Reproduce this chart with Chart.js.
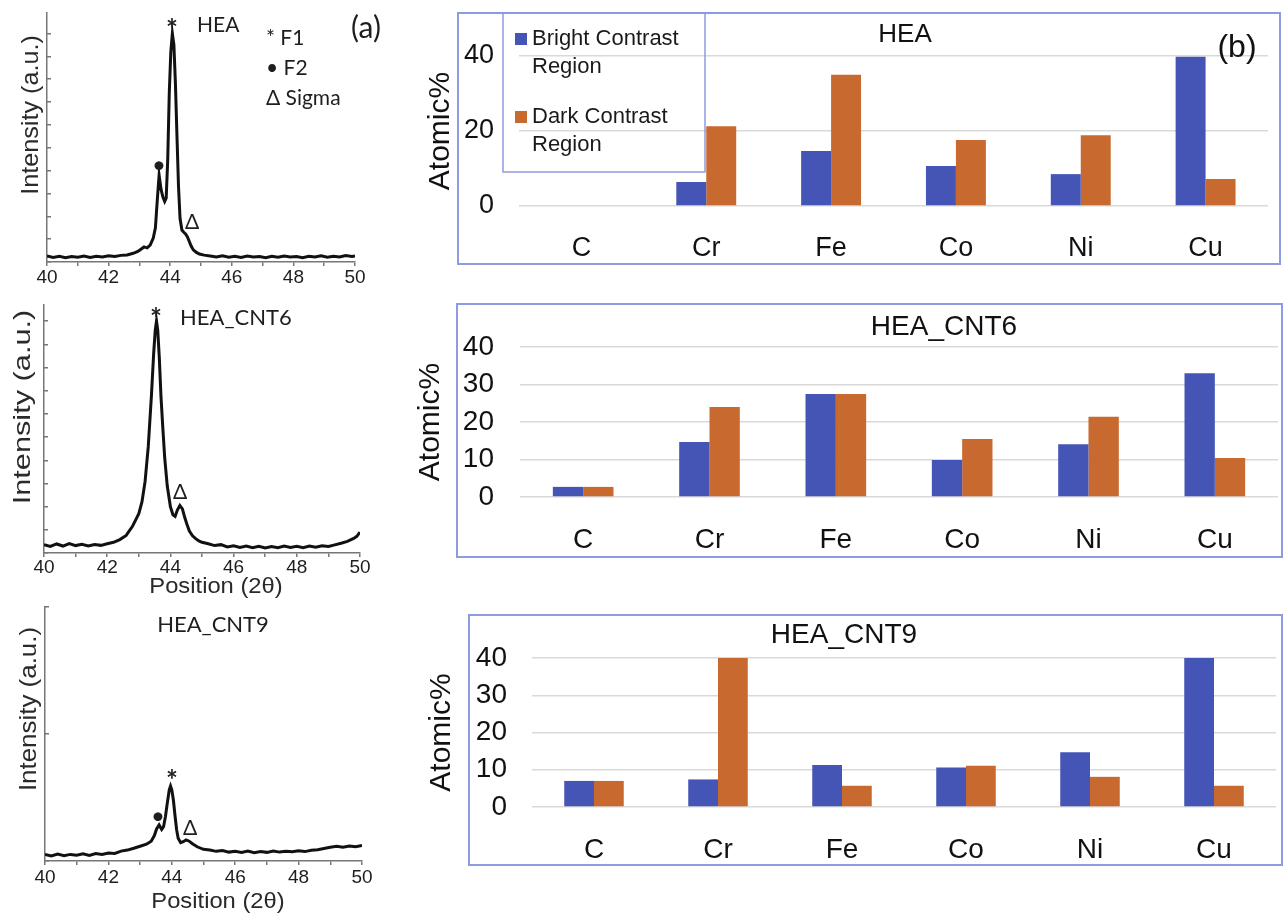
<!DOCTYPE html>
<html>
<head>
<meta charset="utf-8">
<title>XRD patterns and EDS atomic % of HEA, HEA_CNT6, HEA_CNT9</title>
<script src="https://cdn.jsdelivr.net/npm/chart.js@4.4.1/dist/chart.umd.min.js"></script>
<style>
  body { margin: 0; background: #fff; }
  #page { position: relative; width: 1285px; height: 918px; overflow: hidden; }
  .pane { position: absolute; }
  .frame { position: absolute; box-sizing: border-box; border: 2px solid #8d9be2; }
</style>
</head>
<body>
<div id="page">
  <div class="frame" style="left:457px;top:12px;width:824px;height:253px"></div>
  <div class="frame" style="left:456px;top:303px;width:827px;height:255px"></div>
  <div class="frame" style="left:468px;top:614px;width:815px;height:252px"></div>

  <canvas id="xrd1" class="pane" width="400" height="290" style="left:0;top:0"></canvas>
  <canvas id="xrd2" class="pane" width="400" height="310" style="left:0;top:290px"></canvas>
  <canvas id="xrd3" class="pane" width="400" height="318" style="left:0;top:600px"></canvas>

  <canvas id="eds1" class="pane" width="885" height="290" style="left:400px;top:0"></canvas>
  <canvas id="eds2" class="pane" width="885" height="290" style="left:400px;top:290px"></canvas>
  <canvas id="eds3" class="pane" width="885" height="290" style="left:400px;top:600px"></canvas>
</div>
<script>
// ---- (a) XRD patterns, 2theta vs intensity (a.u.) ----
const heaX = [40.0, 40.2, 40.4, 40.6, 40.8, 41.0, 41.2, 41.4, 41.6, 41.8, 42.0, 42.2, 42.4, 42.6, 42.8,
  42.95, 43.05, 43.15, 43.25, 43.35, 43.45, 43.52, 43.58, 43.64, 43.7, 43.76, 43.82, 43.87, 43.92, 43.97,
  44.02, 44.07, 44.12, 44.17, 44.22, 44.27, 44.32, 44.38, 44.44, 44.5, 44.56, 44.62, 44.68, 44.75, 44.85,
  44.95, 45.1, 45.3, 45.5, 45.7, 45.9, 46.1, 46.3, 46.5, 46.7, 46.9, 47.1, 47.3, 47.5, 47.7, 47.9, 48.1,
  48.3, 48.5, 48.7, 48.9, 49.1, 49.3, 49.5, 49.7, 49.9, 50.0];
const heaY = [2.6, 2.0, 2.5, 1.9, 2.4, 2.1, 2.6, 2.0, 2.5, 2.2, 2.7, 2.4, 2.9, 3.1, 3.8,
  4.6, 5.6, 6.6, 6.2, 7.4, 10.5, 15, 27, 38, 32, 28.5, 26.5, 28, 45, 74,
  92, 100, 95, 78, 55, 33, 19, 14, 13, 12.3, 11, 9, 7, 5.3, 4.2,
  3.5, 3.0, 2.6, 2.2, 2.7, 2.1, 2.5, 2.0, 2.6, 2.2, 2.4, 1.9, 2.5, 2.1, 2.6, 2.2, 2.4,
  1.9, 2.5, 2.2, 2.7, 2.1, 2.5, 2.2, 2.8, 2.4, 2.6];

const cnt6X = [40.0, 40.2, 40.4, 40.6, 40.8, 41.0, 41.2, 41.4, 41.6, 41.8, 42.0, 42.2, 42.4, 42.6, 42.8,
  43.0, 43.1, 43.2, 43.3, 43.4, 43.47, 43.52, 43.56, 43.6, 43.65, 43.7, 43.76, 43.82, 43.9, 44.0,
  44.08, 44.15, 44.22, 44.3, 44.38, 44.45, 44.52, 44.6, 44.7, 44.8, 44.9, 45.0, 45.2, 45.4, 45.6,
  45.8, 46.0, 46.2, 46.4, 46.6, 46.8, 47.0, 47.2, 47.4, 47.6, 47.8, 48.0, 48.2, 48.4, 48.6, 48.8,
  49.0, 49.2, 49.4, 49.6, 49.8, 49.9, 50.0];
const cnt6Y = [3.6, 2.8, 3.9, 3.0, 4.1, 3.2, 3.8, 3.0, 3.7, 3.3, 4.0, 4.6, 5.8, 7.6, 11.5,
  17, 22, 31, 46, 68, 86, 96, 100, 96, 84, 68, 54, 41, 29, 20,
  16.5, 15.8, 18.5, 20.5, 19, 15.5, 12.5, 9.5, 7.4, 6.2, 5.2, 4.6, 4.0, 3.2, 3.6,
  2.6, 3.1, 2.4, 3.0, 2.3, 2.9, 2.2, 2.8, 2.3, 3.0, 2.4, 2.9, 2.3, 3.0, 2.5, 3.1,
  2.8, 3.5, 4.2, 5.0, 6.3, 7.2, 9.0];

const cnt9X = [40.0, 40.2, 40.4, 40.6, 40.8, 41.0, 41.2, 41.4, 41.6, 41.8, 42.0, 42.2, 42.4, 42.6, 42.8,
  43.0, 43.2, 43.35, 43.45, 43.52, 43.6, 43.68, 43.74, 43.8, 43.86, 43.92, 43.96, 44.0, 44.05, 44.1,
  44.15, 44.2, 44.28, 44.36, 44.45, 44.55, 44.65, 44.8, 45.0, 45.2, 45.4, 45.6, 45.8, 46.0, 46.2,
  46.4, 46.6, 46.8, 47.0, 47.2, 47.4, 47.6, 47.8, 48.0, 48.2, 48.4, 48.6, 48.8, 49.0, 49.2, 49.4,
  49.6, 49.8, 50.0];
const cnt9Y = [2.6, 2.0, 2.7, 2.1, 2.6, 2.3, 2.8, 2.2, 2.9, 2.6, 3.1, 3.0, 3.9, 4.3, 5.0,
  5.8, 6.6, 7.8, 10, 12.6, 14.2, 12.4, 13.5, 17.5, 23, 28, 29.5, 28, 24, 18,
  12.5, 9.0, 7.2, 7.6, 8.3, 7.8, 6.8, 5.6, 4.6, 4.3, 3.8, 4.1, 3.5, 3.8, 3.4,
  3.9, 3.3, 3.7, 3.4, 3.9, 3.5, 3.8, 3.6, 4.0, 3.7, 4.2, 4.4, 4.9, 5.4, 5.8, 5.4,
  5.9, 5.6, 6.1];

// ---- (b) EDS atomic % per element ----
const elements = ['C', 'Cr', 'Fe', 'Co', 'Ni', 'Cu'];
const seriesNames = ['Bright Contrast Region', 'Dark Contrast Region'];
const heaBright = [0, 6.4, 14.7, 10.7, 8.5, 39.8];
const heaDark = [0, 21.3, 35.0, 17.6, 18.9, 7.2];
const cnt6Bright = [2.7, 14.7, 27.5, 9.9, 14.1, 33.0];
const cnt6Dark = [2.7, 24.0, 27.5, 15.5, 21.4, 10.4];
const cnt9Bright = [7.0, 7.4, 11.3, 10.6, 14.7, 40];
const cnt9Dark = [7.0, 40, 5.7, 11.1, 8.1, 5.7];

const BLUE = '#4555b5', ORANGE = '#c8692f', FRAME = '#8d9be2';
const SANS = "'Liberation Sans', Arial, sans-serif";
const CAL = "Lato, 'Open Sans', sans-serif";

// free text (panel titles, peak markers, axis titles placed like the figure)
const notesPlugin = {
  id: 'notes',
  afterDraw(chart, args, opts) {
    const ctx = chart.ctx;
    (opts.items || []).forEach(function(n) {
      ctx.save();
      ctx.font = n.font || ('20px ' + CAL);
      ctx.fillStyle = n.color || '#1e1e1e';
      ctx.textAlign = n.align || 'center';
      ctx.textBaseline = 'middle';
      ctx.translate(n.x, n.y);
      if (n.rotate) ctx.rotate(n.rotate);
      if (n.sx) ctx.scale(n.sx, 1);
      ctx.fillText(n.text, 0, 0);
      ctx.restore();
    });
  }
};

// boxed legend with the label wrapped before its last word
const boxLegend = {
  id: 'boxLegend',
  afterDraw(chart, args, o) {
    if (!o.box) return;
    const ctx = chart.ctx, b = o.box;
    ctx.save();
    ctx.strokeStyle = o.color;
    ctx.lineWidth = 1.5;
    ctx.strokeRect(b.x, b.y, b.w, b.h);
    ctx.font = o.font;
    ctx.textBaseline = 'middle';
    ctx.textAlign = 'left';
    chart.data.datasets.forEach(function(ds, i) {
      const cy = b.y + o.firstY + i * o.gap;
      ctx.fillStyle = ds.backgroundColor;
      ctx.fillRect(b.x + 12, cy - 6, 12, 12);
      ctx.fillStyle = '#1a1a1a';
      const words = ds.label.split(' ');
      const last = words.pop();
      ctx.fillText(words.join(' '), b.x + 29, cy);
      ctx.fillText(last, b.x + 29, cy + o.lineGap);
    });
    ctx.restore();
  }
};

Chart.register(notesPlugin, boxLegend);

function xrdChart(id, xs, ys, o) {
  return new Chart(document.getElementById(id), {
    type: 'line',
    data: {
      datasets: [{
        data: xs.map(function(x, i) { return { x: x, y: ys[i] }; }),
        borderColor: '#111', borderWidth: 3, pointRadius: 0, tension: 0
      }]
    },
    options: {
      responsive: false,
      animation: false,
      layout: { padding: { left: 0, top: o.top, right: o.right, bottom: 0 } },
      plugins: { legend: { display: false }, tooltip: { enabled: false }, notes: { items: o.notes } },
      scales: {
        x: {
          type: 'linear', min: 40, max: 50,
          ticks: {
            stepSize: 1, autoSkip: false, maxRotation: 0, padding: o.tickPad, color: '#1e1e1e',
            font: { family: SANS, size: 19 },
            callback: function(v) { return v % 2 === 0 ? v : ''; }
          },
          grid: { drawOnChartArea: false, color: '#777', tickLength: 4, lineWidth: 1.5 },
          border: { color: '#777', width: 1.5 },
          afterFit: function(s) { s.height = o.xh; }
        },
        y: {
          min: 0, max: o.ymax,
          ticks: { display: false, stepSize: o.ystep, includeBounds: false },
          grid: { drawOnChartArea: false, color: '#777', tickLength: -4, lineWidth: 1.5 },
          border: { color: '#777', width: 1.5 },
          afterFit: function(s) { s.width = o.left; }
        }
      }
    }
  });
}

function edsChart(id, bright, dark, o) {
  return new Chart(document.getElementById(id), {
    type: 'bar',
    data: {
      labels: elements,
      datasets: [
        { label: seriesNames[0], data: bright, backgroundColor: BLUE },
        { label: seriesNames[1], data: dark, backgroundColor: ORANGE }
      ]
    },
    options: {
      responsive: false,
      animation: false,
      datasets: { bar: { categoryPercentage: 0.48, barPercentage: 1, borderWidth: 0 } },
      layout: { padding: { left: 0, top: o.top, right: o.right, bottom: 0 } },
      plugins: {
        legend: { display: false }, tooltip: { enabled: false },
        notes: { items: o.notes }, boxLegend: o.legend || {}
      },
      scales: {
        x: {
          grid: { display: false }, border: { display: false },
          ticks: { color: '#111', font: { family: SANS, size: o.xFont }, padding: o.xPad },
          afterFit: function(s) { s.height = o.xh; }
        },
        y: {
          min: 0, max: 40,
          ticks: { stepSize: o.ystep, color: '#111', font: { family: SANS, size: o.yFont }, padding: o.yPad },
          grid: { color: '#d9d9d9', lineWidth: 1.5, drawTicks: false },
          border: { display: false },
          title: {
            display: true, text: 'Atomic%', color: '#111',
            font: { family: SANS, size: 30 }, padding: { top: o.titlePad, bottom: 0 }
          },
          afterFit: function(s) { s.width = o.left; }
        }
      }
    }
  });
}

const ROT = -Math.PI / 2;
const POS_FONT = '22px ' + SANS;

xrdChart('xrd1', heaX, heaY, {
  top: 13, right: 45, left: 47, xh: 28, ymax: 109, ystep: 10, tickPad: 0,
  notes: [
    { text: 'Intensity (a.u.)', x: 31, y: 115, rotate: ROT, sx: 1.05, color: '#2a2a2a', font: '24px ' + SANS },
    { text: '*', x: 172, y: 30, font: 'bold 28px ' + CAL },
    { text: 'HEA', x: 197, y: 25, align: 'left', font: '21px ' + CAL },
    { text: '* F1', x: 266, y: 38, align: 'left', font: '21px ' + CAL },
    { text: '• F2', x: 266, y: 68, align: 'left', font: '21px ' + CAL },
    { text: 'Δ Sigma', x: 266, y: 98, align: 'left', font: '21px ' + CAL },
    { text: '(a)', x: 366, y: 28, font: '30px ' + CAL },
    { text: '•', x: 159, y: 165, font: '24px ' + CAL },
    { text: 'Δ', x: 192, y: 222, font: '21px ' + CAL }
  ]
});

xrdChart('xrd2', cnt6X, cnt6Y, {
  top: 15, right: 40, left: 44, xh: 47, ymax: 107, ystep: 10, tickPad: -1,
  notes: [
    { text: 'Intensity (a.u.)', x: 23, y: 117, rotate: ROT, sx: 1.28, color: '#2a2a2a', font: '24px ' + SANS },
    { text: 'Position (2θ)', x: 216, y: 297, sx: 1.08, color: '#2a2a2a', font: POS_FONT },
    { text: '*', x: 156, y: 29, font: 'bold 28px ' + CAL },
    { text: 'HEA_CNT6', x: 180, y: 28, align: 'left', font: '22px ' + CAL },
    { text: 'Δ', x: 180, y: 202, font: '21px ' + CAL }
  ]
});

xrdChart('xrd3', cnt9X, cnt9Y, {
  top: 7, right: 38, left: 45, xh: 57, ymax: 100, ystep: 50, tickPad: 1,
  notes: [
    { text: 'Intensity (a.u.)', x: 29, y: 109, rotate: ROT, sx: 1.08, color: '#2a2a2a', font: '24px ' + SANS },
    { text: 'Position (2θ)', x: 218, y: 302, sx: 1.08, color: '#2a2a2a', font: POS_FONT },
    { text: 'HEA_CNT9', x: 213, y: 25, font: '22px ' + CAL },
    { text: '*', x: 172, y: 181, font: 'bold 28px ' + CAL },
    { text: '•', x: 158, y: 216, font: '24px ' + CAL },
    { text: 'Δ', x: 190, y: 228, font: '21px ' + CAL }
  ]
});

edsChart('eds1', heaBright, heaDark, {
  top: 56, right: 17, left: 119, xh: 84, ystep: 20, xFont: 27, yFont: 27, xPad: 18, yPad: 25, titlePad: 23,
  notes: [
    { text: 'HEA', x: 505, y: 35, color: '#111', font: '26px ' + SANS },
    { text: '(b)', x: 837, y: 48, color: '#111', font: '32px ' + SANS }
  ],
  legend: { box: { x: 103, y: 13, w: 202, h: 159 }, color: FRAME, font: '22px ' + SANS, firstY: 26, gap: 78, lineGap: 28 }
});

edsChart('eds2', cnt6Bright, cnt6Dark, {
  top: 57, right: 7, left: 120, xh: 83, ystep: 10, xFont: 28, yFont: 28, xPad: 18, yPad: 26, titlePad: 13,
  notes: [{ text: 'HEA_CNT6', x: 544, y: 37, color: '#111', font: '28px ' + SANS }]
});

edsChart('eds3', cnt9Bright, cnt9Dark, {
  top: 58, right: 9, left: 132, xh: 83, ystep: 10, xFont: 28, yFont: 28, xPad: 18, yPad: 25, titlePad: 24,
  notes: [{ text: 'HEA_CNT9', x: 444, y: 35, color: '#111', font: '28px ' + SANS }]
});
</script>
</body>
</html>
